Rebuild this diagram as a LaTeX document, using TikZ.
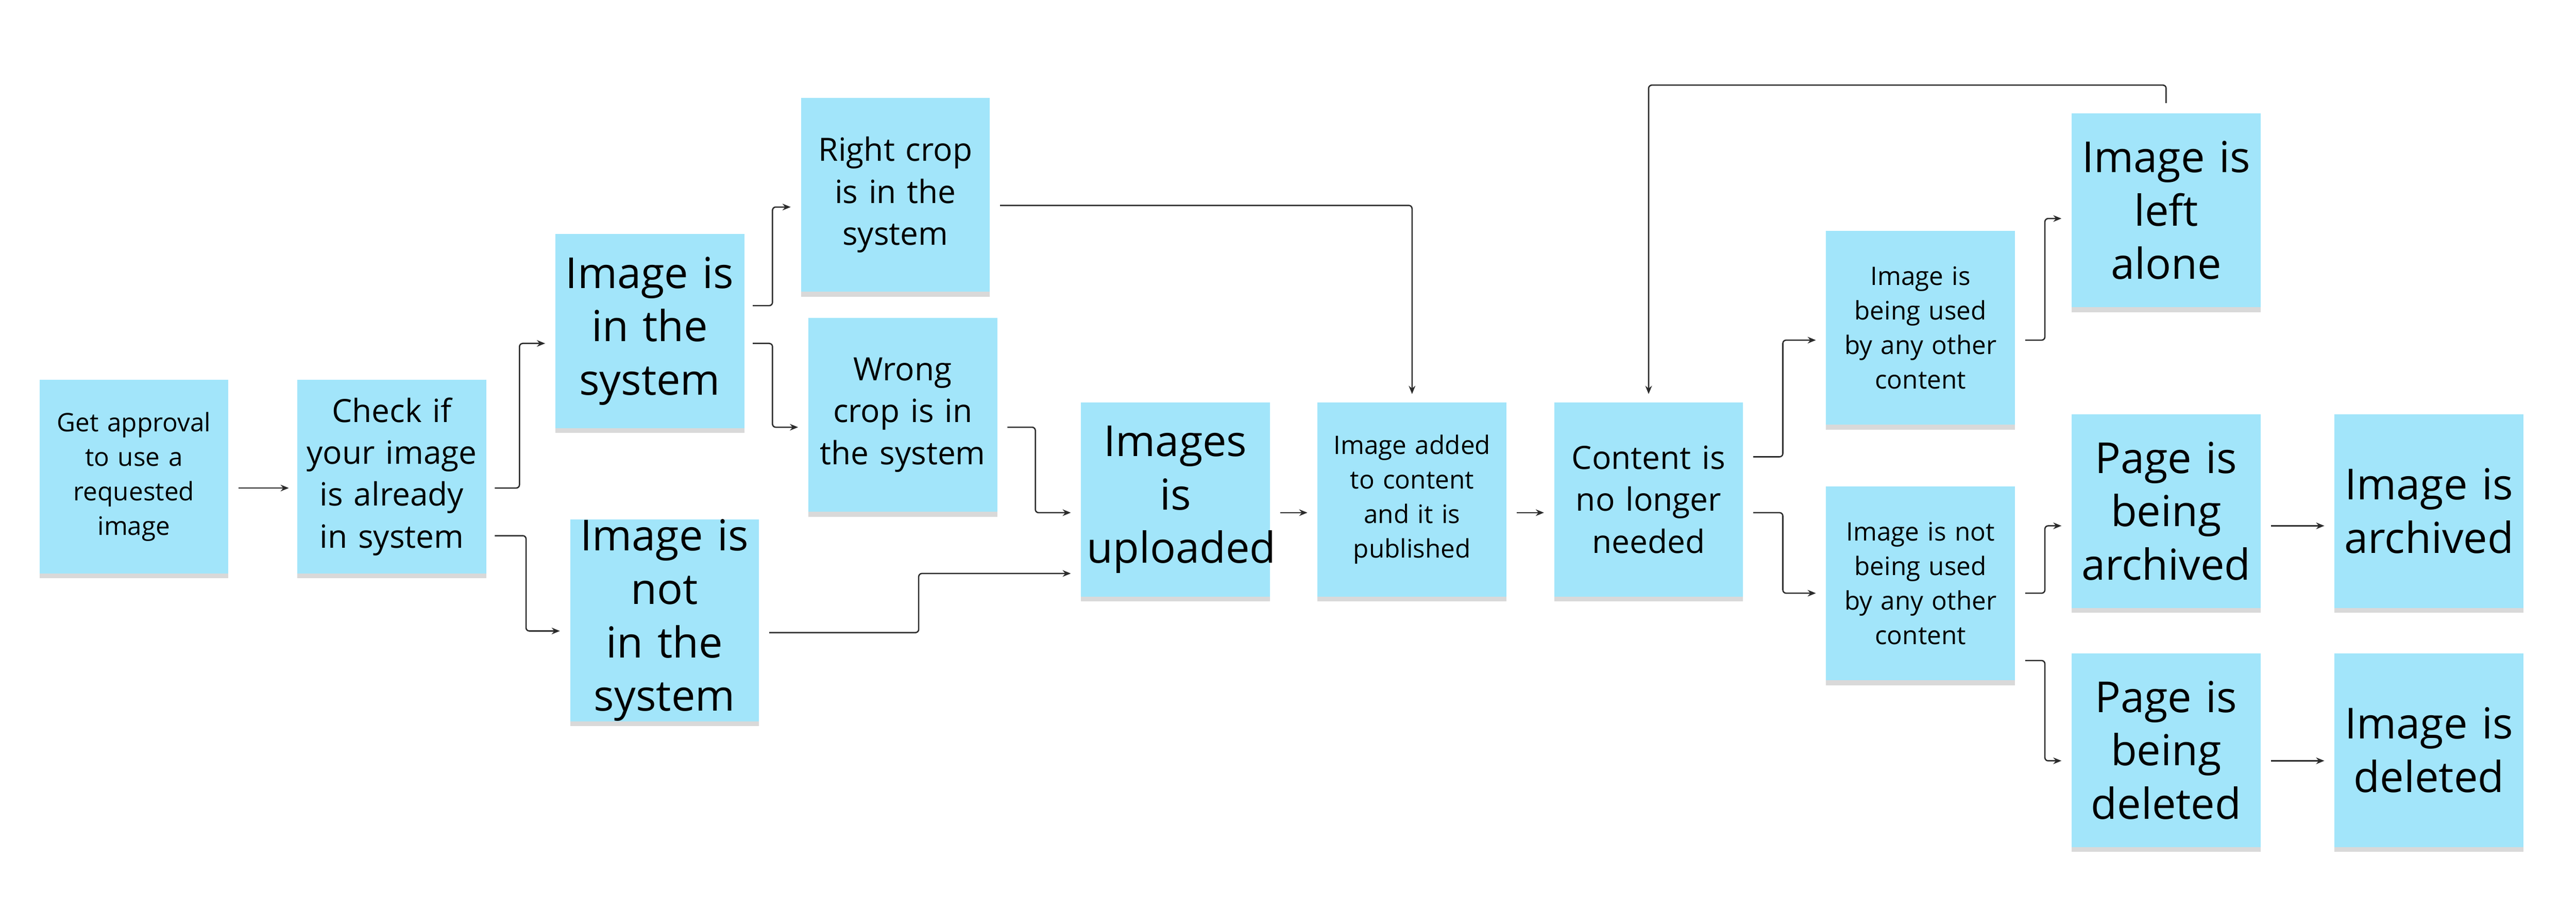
\documentclass[tikz,border=0pt]{standalone}
\usepackage{fontspec}
\setmainfont{Open Sans}
\usetikzlibrary{calc,shadows,arrows.meta}
\definecolor{note}{HTML}{A2E5FA}
\definecolor{ln}{HTML}{2B2B2B}
\begin{document}
\begin{tikzpicture}[x=1pt,y=-1pt,
 note/.style={fill=note,minimum width=115pt,minimum height=118pt,inner sep=0pt,align=center,text width=108pt,
   drop shadow={shadow xshift=0pt,shadow yshift=-3pt,opacity=0.15,fill=black}},
 sm/.style={note,font=\fontsize{15.5}{21}\selectfont},
 md/.style={note,font=\fontsize{19.5}{25.5}\selectfont},
 bg/.style={note,font=\fontsize{26}{32.5}\selectfont},
 arr/.style={draw=ln,line width=0.8pt,rounded corners=2pt,-{Stealth[length=5pt,width=4pt]}}]
\useasboundingbox[fill=white] (0,0) rectangle (1568,553);
\node[sm] (n1) at (81.5,290) {Get approval\\to use a\\requested\\image};
\node[md] (n2) at (238.5,290) {Check if\\your image\\is already\\in system};
\node[bg] (n3) at (395.5,201.5) {Image is\\in the\\system};
\node[bg] (n4) at (404.5,377.5) {Image is\\not in the\\system};
\node[md] (n5) at (545,118.5) {Right crop\\is in the\\system};
\node[md] (n6) at (549.5,252.5) {Wrong\\crop is in\\the system};
\node[bg] (n7) at (715.5,304) {Images is\\uploaded};
\node[sm] (n8) at (859.5,304) {Image added\\to content\\and it is\\published};
\node[md] (n9) at (1003.5,304) {Content is\\no longer\\needed};
\node[sm] (n10) at (1169,199.5) {Image is\\being used\\by any other\\content};
\node[sm] (n11) at (1169,355) {Image is not\\being used\\by any other\\content};
\node[bg] (n12) at (1318.5,128) {Image is\\left\\alone};
\node[bg] (n13) at (1318.5,311) {Page is\\being\\archived};
\node[bg] (n14) at (1478.5,311) {Image is\\archived};
\node[bg] (n15) at (1318.5,456.5) {Page is\\being\\deleted};
\node[bg] (n16) at (1478.5,456.5) {Image is\\deleted};
\draw[arr] ($(n1.east)+(6,7)$) -- ($(n2.west)+(-5,7)$);
\draw[arr] ($(n2.east)+(5,7)$) -- ++(15,0) |- ($(n3.west)+(-6,7.5)$);
\draw[arr] ($(n2.east)+(5,36)$) -- ++(19,0) |- ($(n4.west)+(-6,6.5)$);
\draw[arr] ($(n3.east)+(5,-15.5)$) -- ++(12,0) |- ($(n5.west)+(-6,7.5)$);
\draw[arr] ($(n3.east)+(5,7.5)$) -- ++(12,0) |- ($(n6.west)+(-6,7.5)$);
\draw[arr] ($(n5.east)+(6,6.5)$) -| ($(n8.north)+(0,-5)$);
\draw[arr] ($(n6.east)+(6,7.5)$) -- ++(17,0) |- ($(n7.west)+(-6,8)$);
\draw[arr] ($(n4.east)+(6,7.5)$) -- ++(91,0) |- ($(n7.west)+(-6,45)$);
\draw[arr] ($(n7.east)+(6,8)$) -- ($(n8.west)+(-6,8)$);
\draw[arr] ($(n8.east)+(6,8)$) -- ($(n9.west)+(-6,8)$);
\draw[arr] ($(n9.east)+(6,-26)$) -- ++(18,0) |- ($(n10.west)+(-6,7.5)$);
\draw[arr] ($(n9.east)+(6,8)$) -- ++(18,0) |- ($(n11.west)+(-6,6)$);
\draw[arr] ($(n10.east)+(6,7.5)$) -- ++(12,0) |- ($(n12.west)+(-6,5)$);
\draw[arr] ($(n12.north)+(0,-6)$) -- ++(0,-11) -| ($(n9.north)+(0,-5)$);
\draw[arr] ($(n11.east)+(6,6)$) -- ++(12,0) |- ($(n13.west)+(-6,9)$);
\draw[arr] ($(n11.east)+(6,47)$) -- ++(12,0) |- ($(n15.west)+(-6,6.5)$);
\draw[arr] ($(n13.east)+(6,9)$) -- ($(n14.west)+(-6,9)$);
\draw[arr] ($(n15.east)+(6,6.5)$) -- ($(n16.west)+(-6,6.5)$);
\end{tikzpicture}
\end{document}
